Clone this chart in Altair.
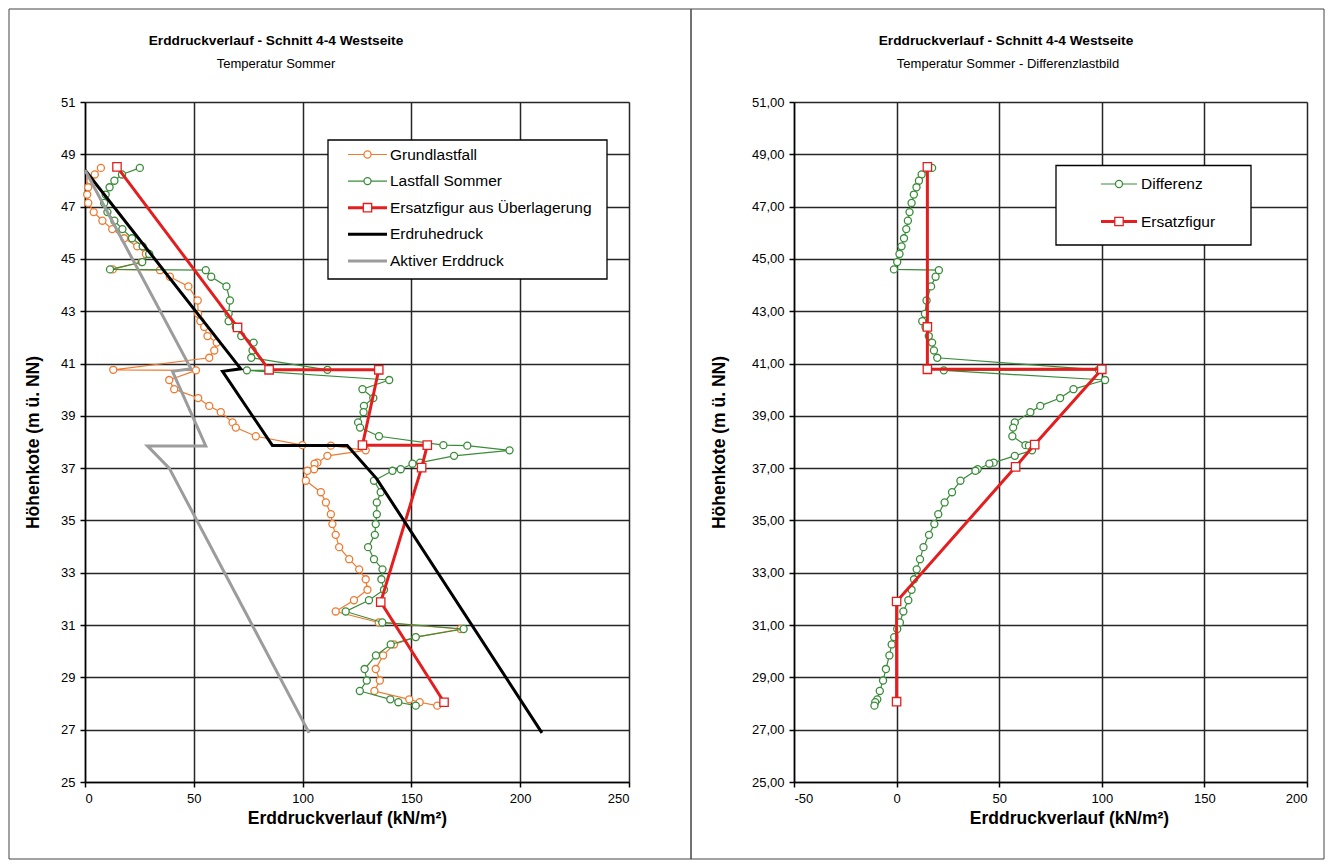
import altair as alt
import pandas as pd

# ---------------- data ----------------
depth = [48.48, 48.23, 47.99, 47.74, 47.46, 47.14, 46.79, 46.46, 46.14, 45.79,
         45.48, 45.19, 44.88, 44.60, 44.57, 44.32, 43.95, 43.41, 42.90, 42.62,
         42.40, 42.05, 41.80, 41.50, 41.22, 40.76, 40.74, 40.37, 40.02, 39.68,
         39.38, 39.14, 38.75, 38.55, 38.22, 37.88, 37.86, 37.68, 37.47, 37.21,
         37.17, 36.96, 36.90, 36.52, 36.08, 35.69, 35.24, 34.86, 34.45, 33.98,
         33.52, 33.13, 32.75, 32.35, 31.95, 31.52, 31.10, 30.85, 30.54, 30.26,
         29.84, 29.32, 28.88, 28.48, 28.16, 28.05, 27.92]

grundlastfall = [7.3, 4.5, 2.5, 1.5, 1.0, 1.5, 4.0, 8.0, 12.5, 18.0,
                 24.0, 28.0, 26.0, 12.8, 34.5, 39.0, 47.5, 51.8, 52.0, 53.0,
                 54.8, 56.3, 60.5, 59.4, 57.1, 13.0, 51.0, 38.7, 41.0, 52.0,
                 57.1, 62.4, 67.8, 69.3, 78.5, 99.9, 113.0, 129.0, 111.4, 106.8,
                 105.5, 105.3, 102.2, 101.5, 108.4, 110.7, 113.0, 113.7, 115.2, 116.8,
                 121.4, 126.0, 129.0, 129.8, 123.6, 115.2, 135.0, 172.6, 152.0, 142.0,
                 137.0, 133.6, 135.5, 133.0, 149.0, 153.8, 161.9]

lastfall_sommer = [25.2, 17.0, 13.5, 11.3, 9.5, 8.8, 10.3, 13.5, 17.2, 21.6,
                   26.5, 29.5, 26.3, 11.5, 55.5, 58.0, 65.0, 66.6, 66.0, 66.0,
                   69.3, 71.8, 77.5, 77.0, 76.4, 111.4, 74.4, 139.8, 127.5, 132.5,
                   128.2, 128.0, 125.5, 126.4, 135.1, 164.7, 175.7, 195.1, 169.6, 154.0,
                   150.5, 145.1, 141.3, 132.8, 135.9, 134.1, 134.1, 133.6, 133.2, 130.1,
                   132.8, 136.7, 136.2, 137.4, 130.5, 119.8, 136.6, 174.0, 152.0, 140.5,
                   133.7, 128.5, 129.5, 126.3, 140.3, 144.0, 152.0]

differenz = [17.3, 12.2, 10.9, 9.7, 8.4, 7.3, 6.3, 5.5, 4.7, 3.6,
             2.4, 1.4, 0.3, -1.3, 20.6, 19.0, 16.8, 14.6, 13.8, 12.5,
             14.1, 15.7, 17.3, 18.2, 19.8, 98.5, 23.0, 101.6, 86.2, 79.7,
             70.0, 65.2, 57.6, 56.8, 56.4, 62.8, 64.5, 66.0, 57.6, 47.3,
             45.2, 39.5, 38.4, 31.1, 27.0, 23.4, 20.3, 18.4, 15.8, 13.1,
             11.4, 9.8, 8.5, 7.3, 5.7, 3.3, 1.6, 0.3, -1.2, -2.4,
             -3.5, -5.2, -6.6, -8.2, -9.4, -10.4, -10.8]

ersatz_links_x = [14.7, 70.1, 84.6, 135.0, 127.5, 157.3, 154.7, 135.9, 165.0]
ersatz_links_y = [48.52, 42.38, 40.76, 40.76, 37.88, 37.88, 37.02, 31.88, 28.05]

ersatz_rechts_x = [15.0, 15.0, 15.0, 100.0, 67.3, 58.0, 0.0, 0.0]
ersatz_rechts_y = [48.52, 42.40, 40.78, 40.78, 37.90, 37.05, 31.90, 28.07]

erdruhedruck_x = [0.0, 71.6, 63.2, 86.1, 120.5, 134.0, 210.0]
erdruhedruck_y = [48.40, 40.80, 40.70, 37.87, 37.87, 36.60, 26.88]

aktiv_x = [0.0, 48.7, 40.2, 55.5, 28.7, 38.7, 103.0]
aktiv_y = [48.40, 40.80, 40.70, 37.85, 37.85, 37.00, 26.88]

x_ticks_left = [0, 50, 100, 150, 200, 250]
x_ticks_right = [-50, 0, 50, 100, 150, 200]
y_ticks = [25, 27, 29, 31, 33, 35, 37, 39, 41, 43, 45, 47, 49, 51]

legend_left = ["Grundlastfall", "Lastfall Sommer", "Ersatzfigur aus Überlagerung",
               "Erdruhedruck", "Aktiver Erddruck"]
legend_right = ["Differenz", "Ersatzfigur"]

title_main = "Erddruckverlauf - Schnitt 4-4 Westseite"
sub_left = "Temperatur Sommer"
sub_right = "Temperatur Sommer - Differenzlastbild"
x_title = "Erddruckverlauf (kN/m²)"
y_title = "Höhenkote (m ü. NN)"

# ---------------- styling ----------------
FONT = "Liberation Sans"
ORANGE = "#EE7A30"
GREEN = "#3A8C3A"
RED = "#E41E1E"
BLACK = "#000000"
GREY = "#9C9C9C"
GRID = "#262626"
LEG_FS = 15.5

W_L, W_R, H = 544, 513, 680

main = pd.DataFrame({"i": list(range(len(depth))), "depth": depth,
                     "grund": grundlastfall, "sommer": lastfall_sommer, "diff": differenz})
ers_l = pd.DataFrame({"i": list(range(len(ersatz_links_x))), "x": ersatz_links_x, "y": ersatz_links_y})
ers_r = pd.DataFrame({"i": list(range(len(ersatz_rechts_x))), "x": ersatz_rechts_x, "y": ersatz_rechts_y})
ruhe = pd.DataFrame({"i": list(range(len(erdruhedruck_x))), "x": erdruhedruck_x, "y": erdruhedruck_y})
akt = pd.DataFrame({"i": list(range(len(aktiv_x))), "x": aktiv_x, "y": aktiv_y})
one = pd.DataFrame({"k": [0]})

AX_COMMON = dict(grid=True, gridColor=GRID, gridWidth=1.5, gridOpacity=1,
                 domainColor="black", domainWidth=1.5, tickColor="black", tickWidth=1.5,
                 tickSize=5, labelPadding=5, labelFont=FONT, labelFontSize=13,
                 labelColor="black", titleFont=FONT, titleColor="black",
                 titleFontSize=17.5, titleFontWeight="bold", titleBaseline="middle")

X_LABEL_EXPR = "datum.value < 0 ? '-' + format(-datum.value, 'd') : format(datum.value, 'd')"


def xenc(field, domain, ticks, title_x):
    return alt.X(field, type="quantitative",
                 scale=alt.Scale(domain=domain, nice=False, zero=False),
                 axis=alt.Axis(values=ticks, title=x_title, titleX=title_x, titleY=36,
                               labelExpr=X_LABEL_EXPR, **AX_COMMON))


def yenc(field, title_x, right=False):
    ax = dict(values=y_ticks, title=y_title, titleX=title_x, titleY=H / 2, **AX_COMMON)
    if right:
        ax["labelExpr"] = "replace(format(datum.value, '.2f'), '.', ',')"
    return alt.Y(field, type="quantitative",
                 scale=alt.Scale(domain=[25, 51], nice=False, zero=False),
                 axis=alt.Axis(**ax))


def series(df, xf, yf, color, width, shape, size, xd, xt, tx, ytx, right=False):
    layers = [alt.Chart(df).mark_line(color=color, strokeWidth=width).encode(
        x=xenc(xf, xd, xt, tx), y=yenc(yf, ytx, right), order=alt.Order("i:Q"))]
    if shape:
        layers.append(alt.Chart(df).mark_point(shape=shape, size=size, filled=True, fill="white",
                                               stroke=color, strokeWidth=1.3, opacity=1).encode(
            x=xenc(xf, xd, xt, tx), y=yenc(yf, ytx, right)))
    return layers


def text(t, x, y, size, weight="normal", align="center"):
    return alt.Chart(one).mark_text(text=t, font=FONT, fontSize=size, fontWeight=weight,
                                    align=align, baseline="middle", color="black").encode(
        x=alt.value(x), y=alt.value(y))


def box(x1, x2, y1, y2, fill="white", stroke="black", sw=1.0):
    if fill is None:
        return alt.Chart(one).mark_rect(fillOpacity=0, stroke=stroke, strokeWidth=sw).encode(
            x=alt.value(x1), x2=alt.value(x2), y=alt.value(y1), y2=alt.value(y2))
    return alt.Chart(one).mark_rect(fill=fill, stroke=stroke, strokeWidth=sw).encode(
        x=alt.value(x1), x2=alt.value(x2), y=alt.value(y1), y2=alt.value(y2))


def legend_entry(label, color, width, shape, size, x1, x2, y, tx, fs):
    parts = [alt.Chart(one).mark_rule(color=color, strokeWidth=width).encode(
        x=alt.value(x1), x2=alt.value(x2), y=alt.value(y))]
    if shape:
        parts.append(alt.Chart(one).mark_point(shape=shape, size=size, filled=True, fill="white",
                                               stroke=color, strokeWidth=1.3, opacity=1).encode(
            x=alt.value((x1 + x2) / 2), y=alt.value(y)))
    parts.append(text(label, tx, y, fs, align="left"))
    return parts


# ---------------- left panel ----------------
XL = [0, 250]
left_layers = [box(-76, 606, -93, 757, fill=None, stroke="#444444", sw=1)]
left_layers += series(main, "grund", "depth", ORANGE, 1.2, "circle", 50, XL, x_ticks_left, 262, -52)
left_layers += series(main, "sommer", "depth", GREEN, 1.2, "circle", 50, XL, x_ticks_left, 262, -52)
left_layers += series(ers_l, "x", "y", RED, 3, "square", 70, XL, x_ticks_left, 262, -52)
left_layers += series(ruhe, "x", "y", BLACK, 3, None, 0, XL, x_ticks_left, 262, -52)
left_layers += series(akt, "x", "y", GREY, 3, None, 0, XL, x_ticks_left, 262, -52)
left_layers.append(box(243, 522, 38, 177, sw=1.3))
leg_specs = [(ORANGE, 1.2, "circle", 50), (GREEN, 1.2, "circle", 50), (RED, 3, "square", 70),
             (BLACK, 3, None, 0), (GREY, 3, None, 0)]
for k, (lab, spec) in enumerate(zip(legend_left, leg_specs)):
    yk = 52.5 + 26.6 * k
    left_layers += legend_entry(lab, spec[0], spec[1], spec[2], spec[3], 263, 302, yk, 305, LEG_FS)
left_layers.append(text(title_main, 191, -61, 13.7, "bold"))
left_layers.append(text(sub_left, 191, -38, 13))

left = alt.layer(*left_layers).properties(width=W_L, height=H)

# ---------------- right panel ----------------
XR = [-50, 200]
right_layers = [box(-103, 530, -93, 757, fill=None, stroke="#444444", sw=1)]
right_layers += series(main, "diff", "depth", GREEN, 1.2, "circle", 50, XR, x_ticks_right, 275, -75, True)
right_layers += series(ers_r, "x", "y", RED, 3, "square", 70, XR, x_ticks_right, 275, -75, True)
right_layers.append(box(262, 457, 63.5, 143, sw=1.3))
right_layers += legend_entry(legend_right[0], GREEN, 1.2, "circle", 50, 307, 343, 82, 347, LEG_FS)
right_layers += legend_entry(legend_right[1], RED, 3, "square", 70, 307, 343, 119.5, 347, LEG_FS)
right_layers.append(text(title_main, 212, -61, 13.7, "bold"))
right_layers.append(text(sub_right, 214, -38, 13))

right = alt.layer(*right_layers).properties(width=W_R, height=H)

chart = alt.hconcat(left, right, spacing=165, bounds="flush").properties(
    padding={"left": 0, "top": 0, "right": 0, "bottom": 0}
).configure_view(stroke="black", strokeWidth=1.5).configure(background="white")

chart.save("out.html", embed_options={"renderer": "svg", "actions": False})
